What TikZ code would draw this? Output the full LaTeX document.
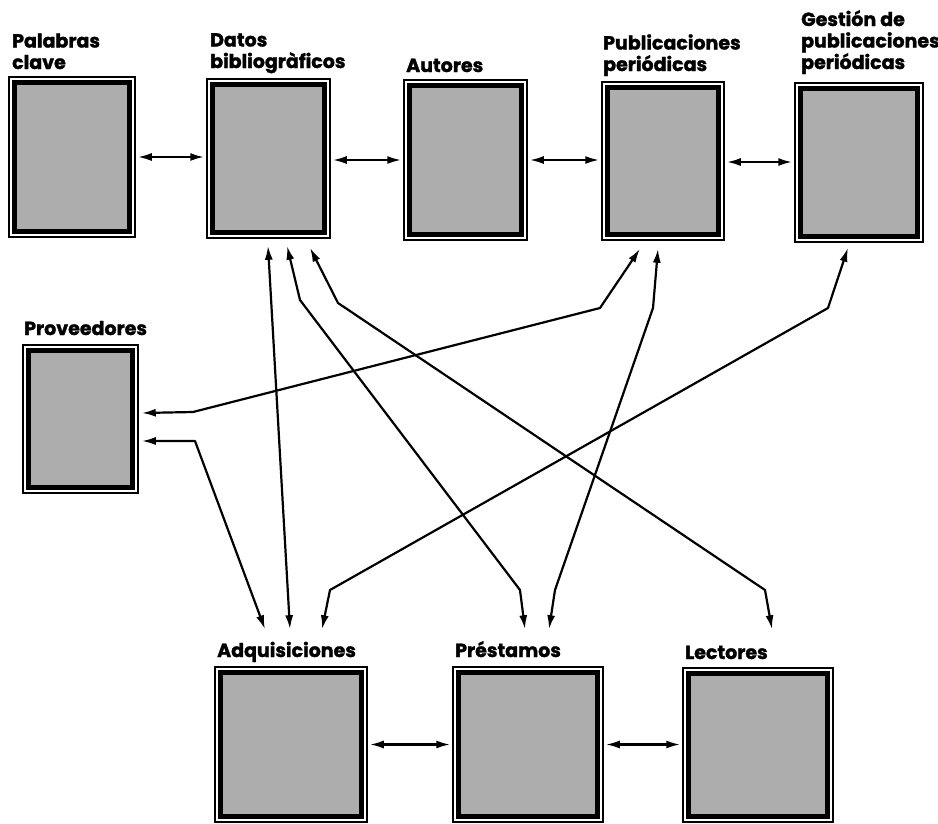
\documentclass[tikz,border=0pt]{standalone}
\usepackage{fontspec}
\newfontfamily\labfont{Poppins}[BoldFeatures={FakeBold=1.5}]
\usetikzlibrary{arrows.meta,calc,fit}
\definecolor{boxgray}{HTML}{ADADAD}

\tikzset{
  lab/.style={font=\labfont\bfseries\fontsize{19}{21.5}\selectfont,
    inner sep=0pt, align=left, anchor=base west},
  frame/.style={draw, line width=1.5pt, fill=white, inner sep=0pt},
  core/.style={draw, line width=4.8pt, fill=boxgray},
  link/.style={line width=2.2pt, line join=round,
    {Latex[length=14pt,width=8pt]}-{Latex[length=14pt,width=8pt]}},
  pair/.style={link, shorten <=2pt, shorten >=2pt},
}

% \docbox{name}{x1}{y1}{x2}{y2}: framed card with a thick grey core
\newcommand\docbox[5]{%
  \coordinate (#1-a) at (#2,#3);
  \coordinate (#1-b) at (#4,#5);
  \node[frame, fit=(#1-a)(#1-b)] (#1) {};
  \draw[core] ($(#1.north west)+(6,6)$) rectangle ($(#1.south east)+(-6,-6)$);
}

\begin{document}
\begin{tikzpicture}[x=1pt,y=-1pt]
\useasboundingbox (0,0) rectangle (938,823);

% top row
\docbox{pal}{9}{77}{135}{237}
\docbox{datos}{207}{79}{330}{238}
\docbox{aut}{404}{80}{527}{240}
\docbox{pub}{602}{82}{724}{240}
\docbox{gest}{795}{83}{923}{242}
% left
\docbox{prov}{23}{345}{138}{493}
% bottom row
\docbox{adq}{215}{667}{367}{822}
\docbox{pres}{453}{667}{603}{822}
\docbox{lect}{683}{668}{833}{822}

% labels
\node[lab] (l-pal)   at (12,69)  {Palabras\\clave};
\node[lab] (l-datos) at (210,68) {Datos\\bibliogràficos};
\node[lab] (l-aut)   at (406,72) {Autores};
\node[lab] (l-pub)   at (603,71) {Publicaciones\\periódicas};
\node[lab] (l-gest)  at (801,69) {Gestión de\\publicaciones\\periódicas};
\node[lab] (l-prov)  at (24,335) {Proveedores};
\node[lab] (l-adq)   at (217,657) {Adquisiciones};
\node[lab] (l-pres)  at (455,657) {Préstamos};
\node[lab] (l-lect)  at (685,659) {Lectores};

% neighbours in a row
\draw[pair] (pal.east) -- (pal.east -| datos.west);
\draw[pair] ($(datos.east)+(0,1.5)$) -- ($(datos.east -| aut.west)+(0,1.5)$);
\draw[pair] (aut.east) -- (aut.east -| pub.west);
\draw[pair] ($(pub.east)+(0,1)$) -- ($(pub.east -| gest.west)+(0,1)$);
\draw[pair] (adq.east) -- (adq.east -| pres.west);
\draw[pair] (pres.east) -- (pres.east -| lect.west);

% cross links
\draw[link] ($(datos.south)+(-0.5,7)$) -- ($(adq.north)+(-1,-37)$);
\draw[link] ($(datos.south)+(18.5,7)$) -- (300,300) -- (520,590) -- ($(pres.north)+(-3,-37)$);
\draw[link] ($(datos.south)+(41.5,9)$) -- (338,303) -- (765,590) -- ($(lect.north)+(14,-38)$);
\draw[link] ($(pub.south)+(-23,8)$) -- (600,308) -- (193,412) -- ($(prov.east)+(3,-6)$);
\draw[link] ($(prov.east)+(3,22)$) -- (195,441) -- ($(adq.north)+(-26,-37)$);
\draw[link] ($(pub.south)+(-5,8)$) -- (653,308) -- (555,590) -- ($(pres.north)+(21,-37)$);
\draw[link] ($(gest.south)+(-11,5)$) -- (828,308) -- (330,590) -- ($(adq.north)+(31,-37)$);
\end{tikzpicture}
\end{document}
